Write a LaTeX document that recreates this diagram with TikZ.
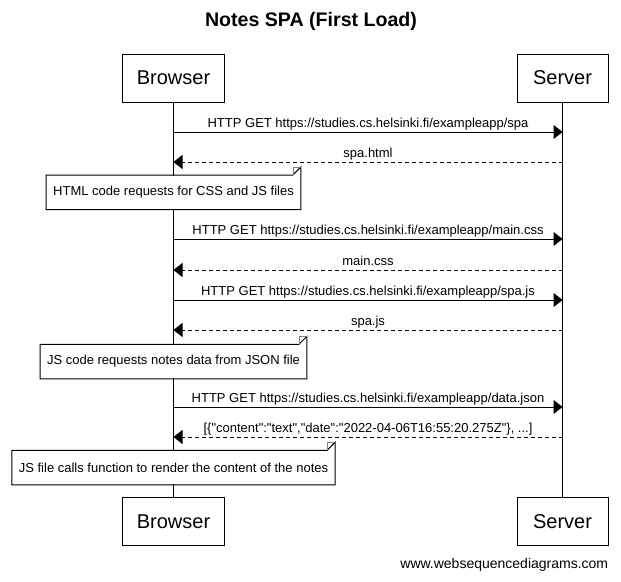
\documentclass[tikz,border=0pt]{standalone}
\usepackage{fontspec}
\setmainfont{Liberation Sans}
\newfontfamily\rawfont{Liberation Sans}
\usetikzlibrary{arrows.meta}

\begin{document}
\begin{tikzpicture}[x=1pt,y=-1pt,line width=1pt,
  actor/.style={draw, minimum height=48pt, inner xsep=14pt, font=\fontsize{20}{24}\selectfont},
  lbl/.style={above, inner sep=1.5pt, text height=9.5pt, text depth=2.8pt, font=\rawfont\fontsize{13}{15}\selectfont},
  req/.style={-{Triangle[length=9pt,width=14pt]}},
  rsp/.style={-{Triangle[length=9pt,width=14pt]}, dash pattern=on 4pt off 3pt},
  note/.style={fill=white, minimum height=33.5pt, inner xsep=6.5pt, font=\fontsize{13}{15}\selectfont}]
\useasboundingbox (0,0) rectangle (621,581);

% Title
\node[font=\bfseries\fontsize{19.6}{23}\selectfont] (title) at (311,21) {Notes SPA (First Load)};

% Actors
\node[actor] (brTop) at (173.5,78) {Browser};
\node[actor, minimum width=91pt] (svTop) at (562.5,78) {Server};
\node[actor] (brBot) at (173.5,521.5) {Browser};
\node[actor, minimum width=91pt] (svBot) at (562.5,521.5) {Server};

% Lifelines
\draw (brTop) -- (brBot);
\draw (svTop) -- (svBot);

% Messages
\draw[req] (brTop |- 0,132) -- node[lbl] {HTTP GET https://studies.cs.helsinki.fi/exampleapp/spa} (svTop |- 0,132);
\draw[rsp] (svTop |- 0,162) -- node[lbl] {spa.html} (brTop |- 0,162);
\draw[req] (brTop |- 0,239) -- node[lbl] {HTTP GET https://studies.cs.helsinki.fi/exampleapp/main.css} (svTop |- 0,239);
\draw[rsp] (svTop |- 0,270) -- node[lbl] {main.css} (brTop |- 0,270);
\draw[req] (brTop |- 0,300) -- node[lbl] {HTTP GET https://studies.cs.helsinki.fi/exampleapp/spa.js} (svTop |- 0,300);
\draw[rsp] (svTop |- 0,330) -- node[lbl] {spa.js} (brTop |- 0,330);
\draw[req] (brTop |- 0,407) -- node[lbl] {HTTP GET https://studies.cs.helsinki.fi/exampleapp/data.json} (svTop |- 0,407);
\draw[rsp] (svTop |- 0,437) -- node[lbl] {[\{"content":"text","date":"2022-04-06T16:55:20.275Z"\}, ...]} (brTop |- 0,437);

% Notes
\node[note] (nt1) at (173.5,192.3) {HTML code requests for CSS and JS files};
\node[note] (nt2) at (173.5,361.5) {JS code requests notes data from JSON file};
\node[note] (nt3) at (173.5,467.5) {JS file calls function to render the content of the notes};
\foreach \n in {nt1,nt2,nt3}{
  \draw (\n.north west) -- ([xshift=-8pt]\n.north east) -- ([yshift=8pt]\n.north east) -- (\n.south east) -- (\n.south west) -- cycle;
  \draw[gray, line width=0.6pt] ([xshift=-8pt]\n.north east) |- ([yshift=8pt]\n.north east);
}

% Footer
\node[anchor=east, font=\fontsize{14}{16}\selectfont] (foot) at (612,565) {www.websequencediagrams.com};
\end{tikzpicture}
\end{document}
